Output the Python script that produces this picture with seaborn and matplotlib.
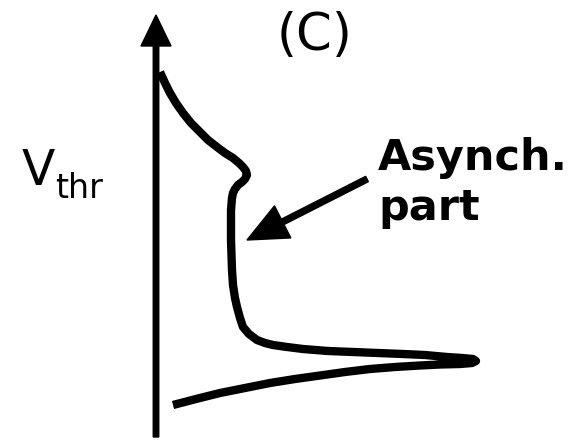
import numpy as np
import pandas as pd
import matplotlib
matplotlib.use('Agg')
import matplotlib.pyplot as plt
import seaborn as sns

# curve (pixel-like units, y grows downward)
curve_x = [160, 165, 170, 176, 183, 191, 200, 208, 217, 225, 233, 239, 243, 246, 247, 245,
           242, 238, 235, 233, 232, 231, 231, 232, 233, 235, 237, 240, 243, 249, 257, 265,
           273, 287, 303, 328, 353, 378, 403, 425, 447, 462, 473, 476, 472, 460, 440, 420,
           395, 370, 345, 320, 295, 270, 245, 220, 196, 173]
curve_y = [72, 83, 93, 103, 113, 123, 132, 140, 147, 153, 158, 163, 167, 171, 175, 179,
           182, 185, 189, 193, 198, 210, 240, 270, 285, 298, 307, 318, 327, 334, 340, 343,
           345, 347, 349, 351, 352, 353, 354, 355, 357, 358, 359, 361, 363, 364, 364.5, 365.5,
           367, 369, 372, 375.5, 379, 383, 388, 393, 399, 405]

title_txt = '(C)'
ylabel_main = 'V'
ylabel_sub = 'thr'
note_lines = ['Asynch.', 'part']

sns.set_style('white')
plt.rcParams['font.family'] = ['DejaVu Sans']
plt.rcParams['text.color'] = 'black'

fig = plt.figure(figsize=(5.79, 4.40), dpi=100)
ax = fig.add_axes([0, 0, 1, 1])
ax.set_xlim(0, 579)
ax.set_ylim(440, 0)
ax.axis('off')

df = pd.DataFrame({'x': curve_x, 'y': curve_y})
sns.lineplot(data=df, x='x', y='y', sort=False, estimator=None, color='black',
             lw=6, ax=ax, solid_capstyle='butt', solid_joinstyle='round')

# vertical axis arrow
ax.arrow(156, 437, 0, -422, width=5.5, head_width=30, head_length=31,
         length_includes_head=True, color='black')

# pointer arrow
ax.arrow(367, 179, -120, 61, width=6, head_width=36, head_length=40,
         length_includes_head=True, color='black')

ax.text(315, 36, title_txt, fontsize=37, ha='center', va='center', color='black')
ax.text(22, 185, ylabel_main, fontsize=35, ha='left', va='baseline', color='black')
ax.text(55, 198, ylabel_sub, fontsize=24, ha='left', va='baseline', color='black')
ax.text(378, 170, note_lines[0], fontsize=31, fontweight='bold', ha='left',
        va='baseline', color='black')
ax.text(378, 220, note_lines[1], fontsize=31, fontweight='bold', ha='left',
        va='baseline', color='black')

fig.savefig('out.png', dpi=100)
